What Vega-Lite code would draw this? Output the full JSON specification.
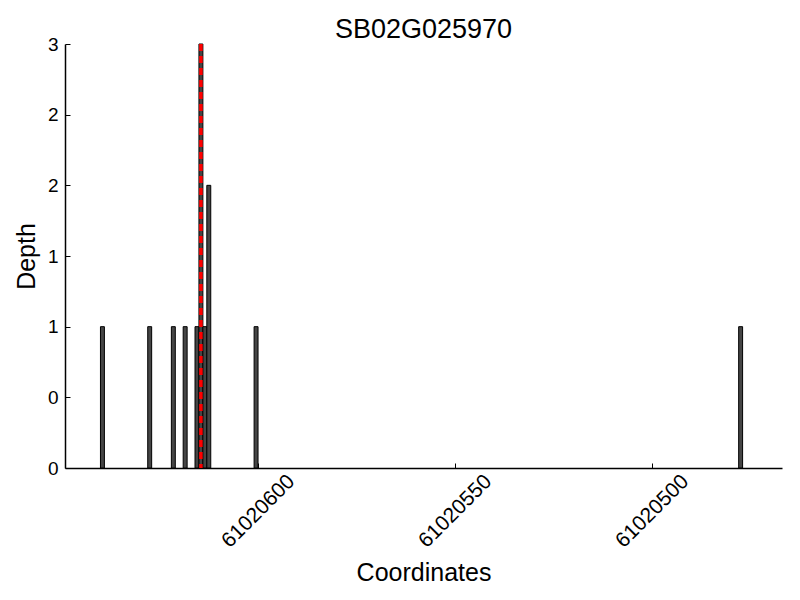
{
  "$schema": "https://vega.github.io/schema/vega-lite/v6.json",
  "width": 717,
  "height": 424,
  "autosize": {"type": "none"},
  "padding": {"left": 65, "top": 44, "right": 18, "bottom": 132},
  "background": "white",
  "config": {
    "view": {"stroke": null},
    "font": "Liberation Sans"
  },
  "title": {
    "text": "SB02G025970",
    "fontSize": 27,
    "fontWeight": "normal",
    "font": "Liberation Sans",
    "color": "black",
    "anchor": "middle",
    "baseline": "alphabetic",
    "offset": -30
  },
  "datasets": {
    "bars": [
      {"start": 61020639, "end": 61020640, "depth": 1},
      {"start": 61020627, "end": 61020628, "depth": 1},
      {"start": 61020621, "end": 61020622, "depth": 1},
      {"start": 61020618, "end": 61020619, "depth": 1},
      {"start": 61020615, "end": 61020616, "depth": 1},
      {"start": 61020614, "end": 61020615, "depth": 3},
      {"start": 61020613, "end": 61020614, "depth": 1},
      {"start": 61020612, "end": 61020613, "depth": 2},
      {"start": 61020600, "end": 61020601, "depth": 1},
      {"start": 61020477, "end": 61020478, "depth": 1}
    ],
    "marker": [{"pos": 61020614.5}]
  },
  "layer": [
    {
      "data": {"name": "bars"},
      "mark": {"type": "rect", "fill": "#454545", "stroke": "black", "strokeWidth": 1},
      "encoding": {
        "x": {
          "field": "start",
          "type": "quantitative",
          "scale": {"domain": [61020467, 61020649], "reverse": true, "nice": false, "zero": false},
          "axis": {
            "title": "Coordinates",
            "titleFontSize": 25,
            "titleFontWeight": "normal",
            "titleColor": "black",
            "titlePadding": 9,
            "values": [61020500, 61020550, 61020600],
            "format": "d",
            "labelAngle": -45,
            "labelAlign": "center",
            "labelBaseline": "middle",
            "labelFontSize": 21,
            "labelColor": "black",
            "labelPadding": 48,
            "labelOverlap": false,
            "labelFlush": false,
            "tickSize": -5,
            "tickColor": "black",
            "domainColor": "black",
            "domainWidth": 1.5,
            "grid": false
          }
        },
        "x2": {"field": "end"},
        "y": {
          "field": "depth",
          "type": "quantitative",
          "scale": {"domain": [0, 3], "nice": false},
          "axis": {
            "title": "Depth",
            "titleFontSize": 25,
            "titleFontWeight": "normal",
            "titleColor": "black",
            "titlePadding": 8,
            "values": [0, 0.5, 1, 1.5, 2, 2.5, 3],
            "labelExpr": "floor(datum.value)",
            "labelFontSize": 19,
            "labelColor": "black",
            "labelPadding": 12,
            "labelFlush": false,
            "labelOverlap": false,
            "tickSize": -5,
            "tickColor": "black",
            "domainColor": "black",
            "domainWidth": 1.5,
            "grid": false
          }
        },
        "y2": {"datum": 0}
      }
    },
    {
      "data": {"name": "marker"},
      "mark": {"type": "rule", "color": "red", "strokeWidth": 3.5, "strokeDash": [7, 5]},
      "encoding": {
        "x": {"field": "pos", "type": "quantitative"}
      }
    }
  ]
}
